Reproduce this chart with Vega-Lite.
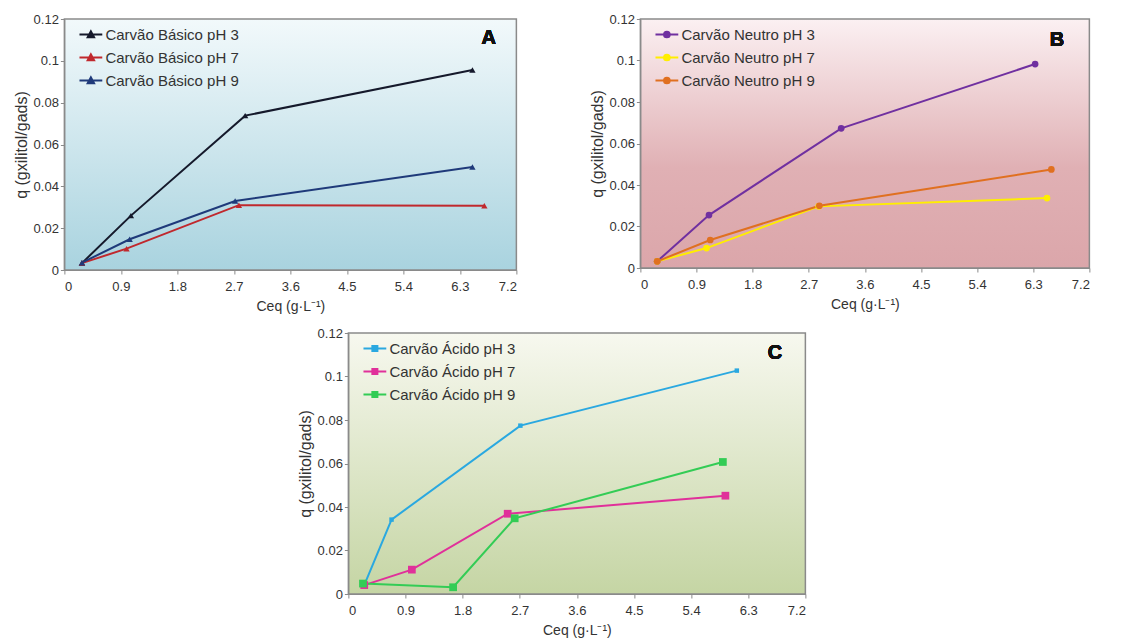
{
  "$schema": "https://vega.github.io/schema/vega-lite/v6.json",
  "background": "white",
  "padding": {"left": 12, "top": 12, "right": 5, "bottom": 5},
  "datasets": {
    "A": [
      {"serie": "Carvão Básico pH 3", "ceq": 0.28, "q": 0.0033},
      {"serie": "Carvão Básico pH 3", "ceq": 1.06, "q": 0.026},
      {"serie": "Carvão Básico pH 3", "ceq": 2.88, "q": 0.0738},
      {"serie": "Carvão Básico pH 3", "ceq": 6.5, "q": 0.0956},
      {"serie": "Carvão Básico pH 7", "ceq": 0.28, "q": 0.0033},
      {"serie": "Carvão Básico pH 7", "ceq": 0.99, "q": 0.0102},
      {"serie": "Carvão Básico pH 7", "ceq": 2.78, "q": 0.031},
      {"serie": "Carvão Básico pH 7", "ceq": 6.69, "q": 0.0307},
      {"serie": "Carvão Básico pH 9", "ceq": 0.28, "q": 0.0035},
      {"serie": "Carvão Básico pH 9", "ceq": 1.04, "q": 0.0147},
      {"serie": "Carvão Básico pH 9", "ceq": 2.72, "q": 0.033},
      {"serie": "Carvão Básico pH 9", "ceq": 6.5, "q": 0.0492}
    ],
    "B": [
      {"serie": "Carvão Neutro pH 3", "ceq": 0.27, "q": 0.0032},
      {"serie": "Carvão Neutro pH 3", "ceq": 1.1, "q": 0.0255},
      {"serie": "Carvão Neutro pH 3", "ceq": 3.22, "q": 0.0673},
      {"serie": "Carvão Neutro pH 3", "ceq": 6.33, "q": 0.0983},
      {"serie": "Carvão Neutro pH 7", "ceq": 0.27, "q": 0.0032},
      {"serie": "Carvão Neutro pH 7", "ceq": 1.06, "q": 0.0096},
      {"serie": "Carvão Neutro pH 7", "ceq": 2.86, "q": 0.0297},
      {"serie": "Carvão Neutro pH 7", "ceq": 6.52, "q": 0.0337},
      {"serie": "Carvão Neutro pH 9", "ceq": 0.27, "q": 0.0032},
      {"serie": "Carvão Neutro pH 9", "ceq": 1.12, "q": 0.0135},
      {"serie": "Carvão Neutro pH 9", "ceq": 2.87, "q": 0.03},
      {"serie": "Carvão Neutro pH 9", "ceq": 6.59, "q": 0.0475}
    ],
    "C": [
      {"serie": "Carvão Ácido pH 3", "ceq": 0.25, "q": 0.0041},
      {"serie": "Carvão Ácido pH 3", "ceq": 0.68, "q": 0.0342},
      {"serie": "Carvão Ácido pH 3", "ceq": 2.71, "q": 0.0774},
      {"serie": "Carvão Ácido pH 3", "ceq": 6.12, "q": 0.1027},
      {"serie": "Carvão Ácido pH 7", "ceq": 0.25, "q": 0.0041},
      {"serie": "Carvão Ácido pH 7", "ceq": 1.0, "q": 0.0112},
      {"serie": "Carvão Ácido pH 7", "ceq": 2.51, "q": 0.0369},
      {"serie": "Carvão Ácido pH 7", "ceq": 5.94, "q": 0.0452},
      {"serie": "Carvão Ácido pH 9", "ceq": 0.23, "q": 0.0048},
      {"serie": "Carvão Ácido pH 9", "ceq": 1.65, "q": 0.0031},
      {"serie": "Carvão Ácido pH 9", "ceq": 2.62, "q": 0.0348},
      {"serie": "Carvão Ácido pH 9", "ceq": 5.9, "q": 0.0607}
    ]
  },
  "config": {
    "font": "Liberation Sans",
    "view": {"stroke": "#8a8a8a", "strokeWidth": 1.5},
    "axis": {
      "labelFont": "Liberation Sans",
      "labelFontSize": 13,
      "labelColor": "#333333",
      "titleFont": "Liberation Sans",
      "titleFontSize": 14,
      "titleFontWeight": "normal",
      "titleColor": "#333333",
      "grid": false,
      "domainColor": "#8a8a8a",
      "tickColor": "#8a8a8a",
      "tickSize": 4
    },
    "axisX": {"labelPadding": 6, "titlePadding": 6},
    "legend": {
      "orient": "none",
      "legendX": 14,
      "legendY": 3,
      "title": null,
      "labelFont": "Liberation Sans",
      "labelFontSize": 15,
      "labelColor": "#333333",
      "rowPadding": 2,
      "symbolType": "M-1,0H1M-0.28,0.24L0,-0.28L0.28,0.24Z",
      "symbolSize": 520,
      "symbolStrokeWidth": 2,
      "labelOffset": 2
    }
  },
  "center": true,
  "spacing": 12,
  "resolve": {"scale": {"color": "independent"}, "legend": {"color": "independent"}},
  "vconcat": [
    {
      "hconcat": [
        {
          "width": 452,
          "height": 251,
          "view": {"fill": {"gradient": "linear", "x1": 0, "y1": 0, "x2": 0, "y2": 1, "stops": [{"offset": 0, "color": "#f2f9fb"}, {"offset": 1, "color": "#a9d3df"}]}},
          "data": {"name": "A"},
          "encoding": {
            "x": {"field": "ceq", "type": "quantitative", "scale": {"domain": [0, 7.2], "nice": false}, "axis": {"values": [0, 0.9, 1.8, 2.7, 3.6, 4.5, 5.4, 6.3, 7.2], "format": ".1~f", "title": "Ceq (g·L⁻¹)"}},
            "y": {"field": "q", "type": "quantitative", "scale": {"domain": [0, 0.12], "nice": false}, "axis": {"values": [0, 0.02, 0.04, 0.06, 0.08, 0.1, 0.12], "format": ".2~f", "title": "q (gxilitol/gads)", "titleFontSize": 16}},
            "color": {"field": "serie", "type": "nominal", "scale": {"domain": ["Carvão Básico pH 3", "Carvão Básico pH 7", "Carvão Básico pH 9"], "range": ["#15192b", "#c0282d", "#1f3a7a"]}}
          },
          "layer": [
            {"mark": {"type": "line", "strokeWidth": 2}},
            {"mark": {"type": "point", "filled": true, "shape": "triangle-up", "size": 40, "opacity": 1}},
            {"mark": {"type": "text", "text": "A", "font": "Liberation Sans", "fontWeight": "bold", "fontSize": 20}, "encoding": {"x": {"datum": 6.76}, "y": {"datum": 0.111}, "color": {"value": "#111111"}}}
          ]
        },
        {
          "width": 449,
          "height": 249,
          "view": {"fill": {"gradient": "linear", "x1": 0, "y1": 0, "x2": 0, "y2": 1, "stops": [{"offset": 0, "color": "#fbf0f2"}, {"offset": 0.6, "color": "#e0b0b4"}, {"offset": 1, "color": "#dba6aa"}]}},
          "data": {"name": "B"},
          "encoding": {
            "x": {"field": "ceq", "type": "quantitative", "scale": {"domain": [0, 7.2], "nice": false}, "axis": {"values": [0, 0.9, 1.8, 2.7, 3.6, 4.5, 5.4, 6.3, 7.2], "format": ".1~f", "title": "Ceq (g·L⁻¹)"}},
            "y": {"field": "q", "type": "quantitative", "scale": {"domain": [0, 0.12], "nice": false}, "axis": {"values": [0, 0.02, 0.04, 0.06, 0.08, 0.1, 0.12], "format": ".2~f", "title": "q (gxilitol/gads)", "titleFontSize": 16}},
            "color": {"field": "serie", "type": "nominal", "scale": {"domain": ["Carvão Neutro pH 3", "Carvão Neutro pH 7", "Carvão Neutro pH 9"], "range": ["#7030a0", "#ffee00", "#e07020"]}, "legend": {"symbolType": "M-1,0H1M0.25,0A0.25,0.25,0,1,1,-0.25,0A0.25,0.25,0,1,1,0.25,0Z"}}
          },
          "layer": [
            {"mark": {"type": "line", "strokeWidth": 2}},
            {"mark": {"type": "point", "filled": true, "shape": "circle", "size": 45, "opacity": 1}},
            {"mark": {"type": "text", "text": "B", "font": "Liberation Sans", "fontWeight": "bold", "fontSize": 20}, "encoding": {"x": {"datum": 6.68}, "y": {"datum": 0.11}, "color": {"value": "#111111"}}}
          ]
        }
      ],
      "spacing": 69,
      "resolve": {"scale": {"color": "independent"}, "legend": {"color": "independent"}}
    },
    {
      "width": 457,
      "height": 261,
      "view": {"fill": {"gradient": "linear", "x1": 0, "y1": 0, "x2": 0, "y2": 1, "stops": [{"offset": 0, "color": "#f7f8ef"}, {"offset": 1, "color": "#c5d5a4"}]}},
      "data": {"name": "C"},
      "encoding": {
        "x": {"field": "ceq", "type": "quantitative", "scale": {"domain": [0, 7.2], "nice": false}, "axis": {"values": [0, 0.9, 1.8, 2.7, 3.6, 4.5, 5.4, 6.3, 7.2], "format": ".1~f", "title": "Ceq (g·L⁻¹)"}},
        "y": {"field": "q", "type": "quantitative", "scale": {"domain": [0, 0.12], "nice": false}, "axis": {"values": [0, 0.02, 0.04, 0.06, 0.08, 0.1, 0.12], "format": ".2~f", "title": "q (gxilitol/gads)", "titleFontSize": 16}},
        "color": {"field": "serie", "type": "nominal", "scale": {"domain": ["Carvão Ácido pH 3", "Carvão Ácido pH 7", "Carvão Ácido pH 9"], "range": ["#2aa8e0", "#e0309a", "#33cc55"]}, "legend": {"symbolType": "M-1,0H1M-0.22,-0.22H0.22V0.22H-0.22Z"}}
      },
      "layer": [
        {"mark": {"type": "line", "strokeWidth": 2}},
        {"transform": [{"filter": "datum.serie === 'Carvão Ácido pH 3'"}], "mark": {"type": "point", "filled": true, "shape": "square", "size": 20, "opacity": 1}},
        {"transform": [{"filter": "datum.serie !== 'Carvão Ácido pH 3'"}], "mark": {"type": "point", "filled": true, "shape": "square", "size": 60, "opacity": 1}},
        {"mark": {"type": "text", "text": "C", "font": "Liberation Sans", "fontWeight": "bold", "fontSize": 20}, "encoding": {"x": {"datum": 6.72}, "y": {"datum": 0.111}, "color": {"value": "#111111"}}}
      ]
    }
  ]
}
